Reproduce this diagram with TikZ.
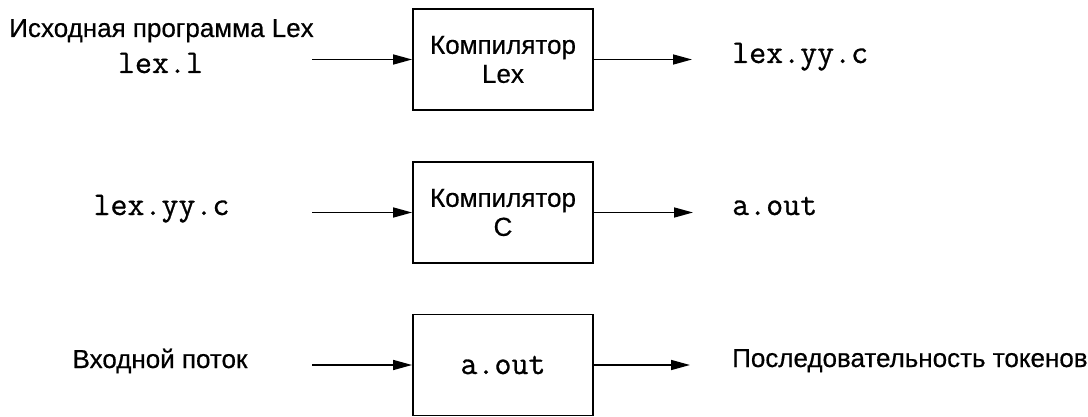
\documentclass[tikz,border=0pt]{standalone}
\usepackage{fontspec}
\setmainfont{Liberation Sans}[FakeBold=0.5]
\setmonofont{Latin Modern Mono}[FakeBold=0.8]
\usetikzlibrary{arrows.meta}
\tikzset{
  sanstext/.style={inner sep=0pt, font=\fontsize{26}{29}\selectfont},
  monotext/.style={inner sep=0pt, font=\fontsize{33}{36}\ttfamily},
  procbox/.style={draw, line width=1.8pt, minimum width=180pt, minimum height=101pt,
    inner sep=0pt, align=center},
  flow/.style={line width=1.6pt, -{Triangle[length=19pt,width=10pt]}},
}
\begin{document}
\begin{tikzpicture}[x=1pt,y=-1pt]
\useasboundingbox (0,0) rectangle (1088,417);
% boxes
\node[procbox, sanstext] (b1) at (503,59.5) {Компилятор\\Lex};
\node[procbox, sanstext] (b2) at (503,212.5) {Компилятор\\C};
\node[procbox, monotext] (b3) at (503,365) {a.out};
% left texts
\node[sanstext, anchor=base] (l1a) at (161.5,37) {Исходная программа Lex};
\node[monotext, anchor=base] (l1b) at (160.5,73) {lex.l};
\node[monotext, anchor=base] (l2) at (161.5,215) {lex.yy.c};
\node[sanstext, anchor=base] (l3) at (160,368) {Входной поток};
% right texts
\node[monotext, anchor=base west] (r1) at (732,63) {lex.yy.c};
\node[monotext, anchor=base west] (r2) at (732,215) {a.out};
\node[sanstext, anchor=base west] (r3) at (732,367) {Последовательность токенов};
% arrow ends
\coordinate (s1) at (312,59.5);
\coordinate (s2) at (312,212.5);
\coordinate (s3) at (312,365);
\coordinate (e1) at (692,59.5);
\coordinate (e2) at (693,212.5);
\coordinate (e3) at (690,365);
\draw[flow] (s1) -- (b1.west);
\draw[flow] (s2) -- (b2.west);
\draw[flow] (s3) -- (b3.west);
\draw[flow] (b1.east) -- (e1);
\draw[flow] (b2.east) -- (e2);
\draw[flow] (b3.east) -- (e3);
\end{tikzpicture}
\end{document}
